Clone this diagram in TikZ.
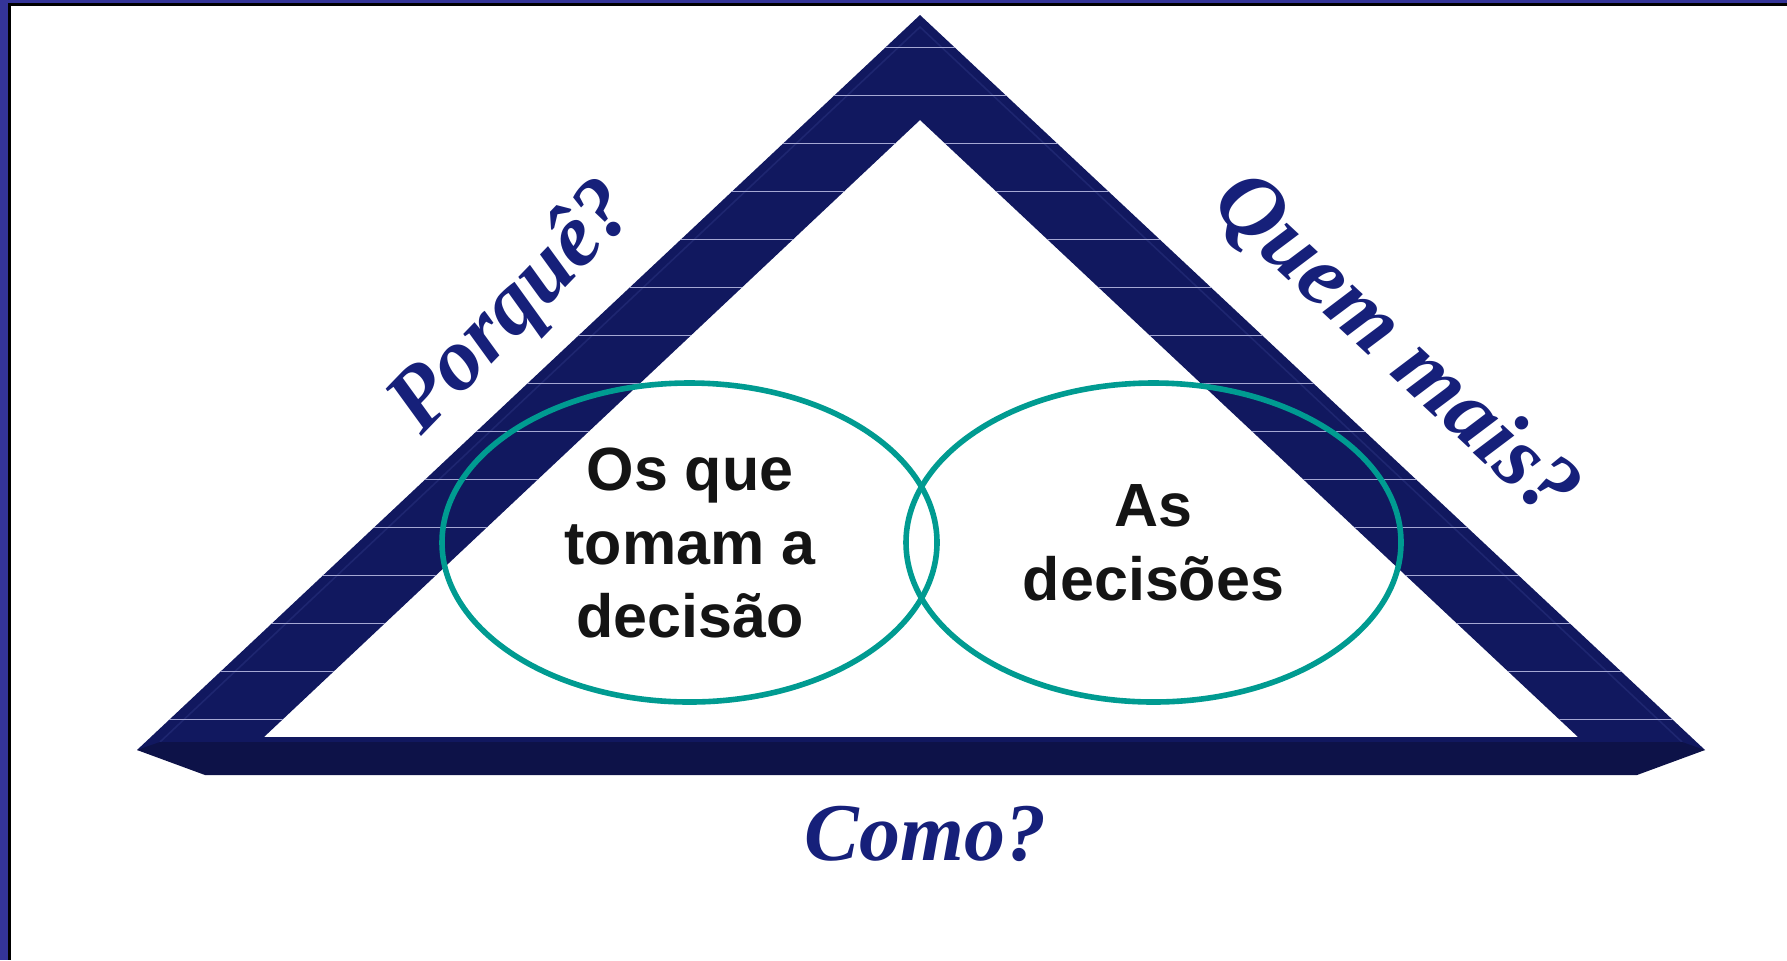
\documentclass[tikz,border=0pt]{standalone}
\usepackage{fontspec}
\setmainfont{Liberation Serif}
\newfontfamily\boxfont{Liberation Sans}

\definecolor{bandBlue}{RGB}{17,24,95}
\definecolor{bevelBlue}{RGB}{30,38,112}
\definecolor{barBlue}{RGB}{13,18,72}
\definecolor{stripeLine}{RGB}{165,168,212}
\definecolor{ringTeal}{RGB}{0,155,145}
\definecolor{labelBlue}{RGB}{22,32,122}
\definecolor{frameBlue}{RGB}{52,52,152}

\tikzset{
    questionText/.style = {text = labelBlue, inner sep = 0pt,
        font = \fontsize{41}{49}\selectfont\bfseries\itshape},
    sideText/.style = {questionText,
        font = \fontsize{44.5}{52}\selectfont\bfseries\itshape},
    ringText/.style = {text = black!92, inner sep = 0pt, align = center,
        font = \boxfont\fontsize{30.5}{36.75}\selectfont\bfseries},
    ring/.style = {draw = ringTeal, line width = 2.8pt}
}

\begin{document}
\begin{tikzpicture}[x = 0.5pt, y = -0.5pt]

    \useasboundingbox (0,0) rectangle (1787,960);

    %% Drawing the frame
    \fill [frameBlue] (0,0) rectangle (8,960);
    \fill [frameBlue] (0,0) rectangle (1787,3.3);
    \fill [black] (8,3.3) rectangle (10.5,960);
    \fill [black] (8,3.3) rectangle (1787,6.3);

    \draw
    (920,15) coordinate (outerTop)
    (137,750) coordinate (outerLeft)
    (1705,750) coordinate (outerRight)
    (920,120) coordinate (innerTop)
    (264,737) coordinate (innerLeft)
    (1578,737) coordinate (innerRight)
    ;

    %% Drawing the triangle band
    \fill [bandBlue, even odd rule]
    (outerTop) -- (outerLeft) -- (outerRight) -- cycle
    (innerTop) -- (innerLeft) -- (innerRight) -- cycle
    ;

    \begin{scope}[even odd rule]
        \clip
        (outerTop) -- (outerLeft) -- (outerRight) -- cycle
        (innerTop) -- (innerLeft) -- (innerRight) -- cycle
        ;

        \draw [bevelBlue, line width = 0.8pt]
        (160,742) -- (920,27) -- (1682,742)
        ;

        \foreach \i in {0,...,14} {
            \draw [stripeLine, line width = 0.6pt]
            (100,47.5+48*\i) -- +(1700,0)
            ;
        }
    \end{scope}

    %% Drawing the base bar
    \fill [barBlue]
    (160,742) -- (1682,742) -- (outerRight)
    -- (1637,775) -- (205,775) -- (outerLeft) -- cycle
    ;

    %% Drawing the two rings
    \draw [ring] (689.5,542.5) ellipse [x radius = 247.5, y radius = 159.5];
    \draw [ring] (1153.5,542.5) ellipse [x radius = 247.5, y radius = 159.5];

    \node [ringText, anchor = center] (leftText) at (690,543)
    {Os que \\ tomam a \\ decisão};
    \node [ringText, anchor = center] (rightText) at (1153.5,543)
    {As \\ decisões};

    %% Drawing the questions
    \node [sideText, anchor = center, rotate = 46] (whyLabel) at (514,309) {Porquê?};
    \node [sideText, anchor = center, rotate = -43] (whoLabel) at (1395,347) {Quem mais?};
    \node [questionText, anchor = base] (howLabel) at (925.5,860) {Como?};

\end{tikzpicture}
\end{document}
